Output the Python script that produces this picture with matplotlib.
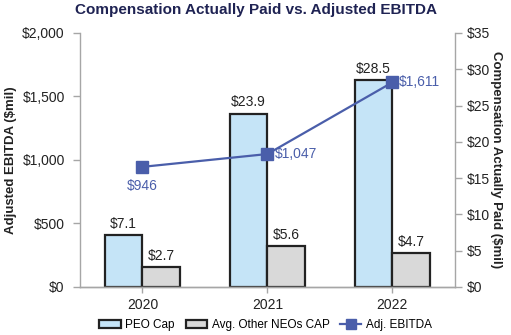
import matplotlib
matplotlib.use("Agg")
import matplotlib.pyplot as plt
import numpy as np
from matplotlib.patches import Patch
from matplotlib.lines import Line2D

plt.rcParams['font.family'] = ['Liberation Sans', 'DejaVu Sans']

years = ["2020", "2021", "2022"]
peo_cap = [7.1, 23.9, 28.5]
neo_cap = [2.7, 5.6, 4.7]
adj_ebitda = [946, 1047, 1611]
left_ticks = [0, 500, 1000, 1500, 2000]
right_ticks = [0, 5, 10, 15, 20, 25, 30, 35]

line_color = "#4a5eaa"
gray = "#a6a6a6"

fig = plt.figure(figsize=(5.11, 3.35), dpi=100)
ax = fig.add_axes([0.1566, 0.1433, 0.7334, 0.7582])
ax2 = ax.twinx()

x = np.arange(len(years))
w = 0.3

# Bars on the compensation (right) axis
ax2.bar(x - w / 2, peo_cap, w, color="#c5e4f7", edgecolor="#222222", linewidth=1.6, zorder=2)
ax2.bar(x + w / 2, neo_cap, w, color="#d9d9d9", edgecolor="#222222", linewidth=1.6, zorder=2)
for xi, v in zip(x - w / 2, peo_cap):
    ax2.annotate(f"${v:.1f}", (xi, v), xytext=(0, 3), textcoords="offset points",
                 ha="center", va="bottom", fontsize=10, color="#222222")
for xi, v in zip(x + w / 2, neo_cap):
    ax2.annotate(f"${v:.1f}", (xi, v), xytext=(0, 3), textcoords="offset points",
                 ha="center", va="bottom", fontsize=10, color="#222222")
ax2.set_ylim(0, 35)
ax2.set_yticks(right_ticks)
ax2.set_yticklabels([f"${t}" for t in right_ticks])

# Adjusted EBITDA line on the left axis, drawn above the bars
ax.set_zorder(ax2.get_zorder() + 1)
ax.patch.set_visible(False)
ax.plot(x, adj_ebitda, color=line_color, linewidth=1.6, marker="s", markersize=8, zorder=3)
ax.annotate(f"${adj_ebitda[0]:,}", (x[0], adj_ebitda[0]), xytext=(0, -9), textcoords="offset points",
            ha="center", va="top", fontsize=10, color=line_color)
for i in (1, 2):
    ax.annotate(f"${adj_ebitda[i]:,}", (x[i], adj_ebitda[i]), xytext=(5, 0), textcoords="offset points",
                ha="left", va="center", fontsize=10, color=line_color)
ax.set_ylim(0, 2000)
ax.set_yticks(left_ticks)
ax.set_yticklabels([f"${t:,}" for t in left_ticks])
ax.set_xlim(-0.5, 2.5)
ax.set_xticks(x)
ax.set_xticklabels(years)

for a in (ax, ax2):
    a.spines["top"].set_visible(False)
    for s in ("left", "right", "bottom"):
        a.spines[s].set_color(gray)
        a.spines[s].set_linewidth(1.0)
    a.tick_params(axis="both", colors=gray, labelcolor="#222222", labelsize=10, length=5, width=1.0)
ax.spines["right"].set_visible(False)
ax2.spines["left"].set_visible(False)
ax.tick_params(axis="y", pad=6)
ax2.tick_params(axis="y", pad=4)
ax.tick_params(axis="x", length=4, pad=4)

ax.set_ylabel("Adjusted EBITDA ($mil)", fontsize=9.5, fontweight="bold", color="#222222", labelpad=4)
ax2.set_ylabel("Compensation Actually Paid ($mil)", fontsize=9.5, fontweight="bold", color="#222222",
               rotation=270, labelpad=8)

fig.suptitle("Compensation Actually Paid vs. Adjusted EBITDA", x=0.5, y=0.99, fontsize=11,
             fontweight="bold", color="#1f2353")

handles = [
    Patch(facecolor="#c5e4f7", edgecolor="#222222", linewidth=1.6, label="PEO Cap"),
    Patch(facecolor="#d9d9d9", edgecolor="#222222", linewidth=1.6, label="Avg. Other NEOs CAP"),
    Line2D([0], [0], color=line_color, linewidth=1.6, marker="s", markersize=7, label="Adj. EBITDA"),
]
fig.legend(handles=handles, loc="lower center", bbox_to_anchor=(0.52, -0.02), ncol=3, frameon=False,
           fontsize=8.5, handlelength=1.8, handletextpad=0.4, columnspacing=0.9)

fig.savefig("out.png", dpi=100)
